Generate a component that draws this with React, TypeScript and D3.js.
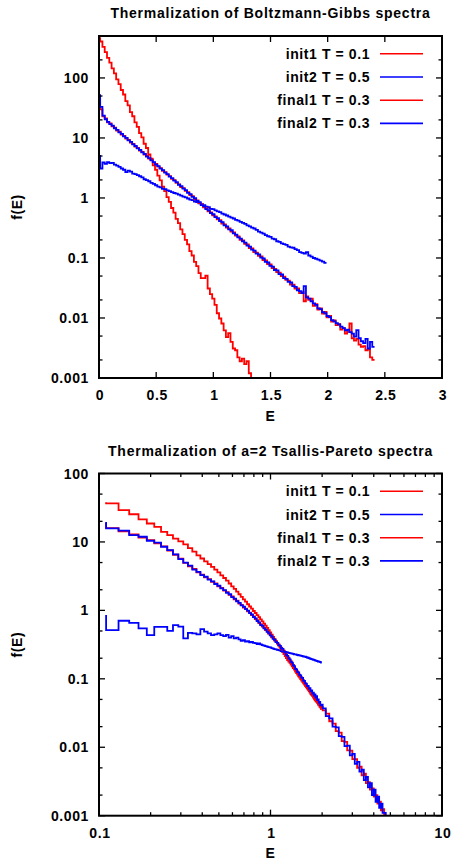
import React from "react";
import * as d3 from "d3";

const W = 451;
const H = 865;
const FONT = "'Liberation Sans', Arial, Helvetica, sans-serif";

// ---------- labels ----------
const LEGEND_LABELS = ["init1 T = 0.1", "init2 T = 0.5", "final1 T = 0.3", "final2 T = 0.3"];
const SERIES_COLORS = ["#ff0000", "#0000ff", "#ff0000", "#0000ff"];
const TOP_TITLE = "Thermalization of Boltzmann-Gibbs spectra";
const BOTTOM_TITLE = "Thermalization of a=2 Tsallis-Pareto spectra";
const Y_LABEL = "f(E)";
const X_LABEL = "E";
const Y_TICKS = [0.001, 0.01, 0.1, 1, 10, 100];
const Y_TICK_LABELS = ["0.001", "0.01", "0.1", "1", "10", "100"];
const TOP_X_TICKS = [0, 0.5, 1, 1.5, 2, 2.5, 3];
const TOP_X_TICK_LABELS = ["0", "0.5", "1", "1.5", "2", "2.5", "3"];
const BOTTOM_X_TICKS = [0.1, 1, 10];
const BOTTOM_X_TICK_LABELS = ["0.1", "1", "10"];

// ---------- histogram bins ----------
const BIN = 0.02; // bin width of all histograms
const TOP_E0 = 0; // first bin centre, top panel
const BOT_E0 = 0.1; // first bin centre, bottom panel (only its right edge is visible)
const BOT_TAIL_E0 = 2.05; // bottom panel tail read at coarser resolution
const BOT_TAIL_STEP = 0.1;

// ---------- top panel: Boltzmann-Gibbs (f at E = 0, 0.02, 0.04 ...) ----------
const TOP_INIT1 = [
  460, 405, 330, 270, 216, 180, 144, 119, 95, 79,
  63, 53, 41, 35, 27, 23, 18.2, 15.3, 12.0, 10.2,
  8.0, 6.8, 5.3, 4.5, 3.5, 2.95, 2.35, 1.96, 1.55, 1.3,
  1.03, 0.86, 0.68, 0.57, 0.45, 0.38, 0.30, 0.25, 0.20, 0.168,
  0.13, 0.11, 0.086, 0.073, 0.056, 0.046, 0.046, 0.051, 0.031, 0.025,
  0.021, 0.0165, 0.012, 0.0098, 0.0081, 0.0062, 0.0048, 0.0056, 0.0040, 0.0031,
  0.0029, 0.0022, 0.0019, 0.0021, 0.0017, 0.0019, 0.0012, 0.0010, 0.00095,
];
const TOP_INIT2 = [
  5.0, 3.1, 3.9, 3.7, 3.95, 3.8, 3.85, 3.6, 3.45, 3.3,
  3.1, 2.95, 2.7, 2.85, 2.75, 2.55, 2.5, 2.4, 2.3, 2.2,
  2.05, 1.98, 1.9, 1.78, 1.72, 1.63, 1.55, 1.5, 1.42, 1.4,
  1.34, 1.3, 1.25, 1.21, 1.18, 1.14, 1.09, 1.05, 1.02, 0.98,
  0.94, 0.92, 0.87, 0.85, 0.81, 0.79, 0.76, 0.72, 0.70, 0.66,
  0.65, 0.62, 0.60, 0.58, 0.55, 0.53, 0.51, 0.49, 0.47, 0.455,
  0.43, 0.42, 0.40, 0.385, 0.37, 0.35, 0.335, 0.32, 0.31, 0.295,
  0.275, 0.265, 0.255, 0.24, 0.23, 0.225, 0.21, 0.205, 0.19, 0.185,
  0.175, 0.17, 0.165, 0.155, 0.15, 0.148, 0.14, 0.135, 0.125, 0.122,
  0.118, 0.125, 0.11, 0.105, 0.10, 0.097, 0.094, 0.09, 0.087, 0.083,
];
const TOP_FINAL1 = [
  40, 30, 23, 21.2, 18.2, 17.4, 15.6, 14.8, 13.3, 12.7,
  11.4, 10.8, 9.8, 9.3, 8.4, 7.95, 7.2, 6.8, 6.15, 5.85,
  5.3, 5.0, 4.52, 4.3, 3.88, 3.68, 3.32, 3.15, 2.84, 2.7,
  2.44, 2.31, 2.08, 1.98, 1.78, 1.69, 1.52, 1.46, 1.31, 1.25,
  1.12, 1.07, 0.96, 0.915, 0.82, 0.78, 0.70, 0.67, 0.60, 0.575,
  0.515, 0.495, 0.44, 0.425, 0.375, 0.362, 0.322, 0.31, 0.275, 0.268,
  0.235, 0.228, 0.2, 0.196, 0.172, 0.168, 0.146, 0.144, 0.125, 0.123,
  0.108, 0.106, 0.092, 0.091, 0.079, 0.078, 0.068, 0.066, 0.058, 0.057,
  0.050, 0.049, 0.043, 0.042, 0.036, 0.036, 0.031, 0.031, 0.026, 0.027,
  0.019, 0.023, 0.020, 0.021, 0.016, 0.017, 0.0138, 0.0145, 0.0118, 0.0126,
  0.0102, 0.0108, 0.0087, 0.0091, 0.0076, 0.0079, 0.0064, 0.0068, 0.0055, 0.0059,
  0.0081, 0.0046, 0.0042, 0.0045, 0.0036, 0.0033, 0.0034, 0.0029, 0.0030, 0.0022,
  0.0020,
];
const TOP_FINAL2 = [
  51.5, 33, 23.5, 20.5, 18.6, 17.0, 16.0, 14.5, 13.6, 12.4,
  11.7, 10.6, 10.0, 9.1, 8.6, 7.8, 7.35, 6.7, 6.3, 5.75,
  5.4, 4.9, 4.62, 4.22, 3.97, 3.6, 3.4, 3.08, 2.9, 2.65,
  2.5, 2.26, 2.14, 1.94, 1.83, 1.66, 1.57, 1.43, 1.35, 1.22,
  1.16, 1.04, 0.99, 0.89, 0.85, 0.76, 0.73, 0.65, 0.62, 0.56,
  0.535, 0.48, 0.46, 0.41, 0.395, 0.35, 0.335, 0.30, 0.29, 0.258,
  0.245, 0.22, 0.21, 0.19, 0.18, 0.161, 0.155, 0.138, 0.133, 0.118,
  0.115, 0.101, 0.098, 0.086, 0.084, 0.074, 0.072, 0.063, 0.062, 0.054,
  0.053, 0.046, 0.045, 0.040, 0.039, 0.034, 0.033, 0.029, 0.028, 0.026,
  0.034, 0.022, 0.021, 0.019, 0.0175, 0.0165, 0.0145, 0.014, 0.0125, 0.012,
  0.0108, 0.0103, 0.0092, 0.0088, 0.0082, 0.0078, 0.0072, 0.0068, 0.0062, 0.0064,
  0.0058, 0.0055, 0.0049, 0.0063, 0.0046, 0.0041, 0.0038, 0.0045, 0.0031, 0.0040,
  0.0033,
];

// ---------- bottom panel: a=2 Tsallis-Pareto (f at E = 0.10, 0.12, ... 1.98) ----------
const BOT_INIT1 = [
  38, 36.5, 29.1, 25.4, 21.3, 18.6, 16.6, 14.0, 12.6, 11.2,
  10.2, 9.2, 8.1, 7.2, 6.35, 5.73, 5.21, 4.75, 4.33, 3.94,
  3.59, 3.25, 2.97, 2.72, 2.47, 2.25, 2.06, 1.88, 1.72, 1.58,
  1.45, 1.34, 1.23, 1.14, 1.06, 0.98, 0.916, 0.853, 0.794, 0.74,
  0.689, 0.641, 0.597, 0.554, 0.514, 0.477, 0.443, 0.411, 0.382, 0.354,
  0.329, 0.305, 0.283, 0.263, 0.245, 0.229, 0.214, 0.2, 0.188, 0.178,
  0.171, 0.161, 0.152, 0.144, 0.136, 0.128, 0.121, 0.115, 0.109, 0.104,
  0.099, 0.094, 0.09, 0.086, 0.082, 0.078, 0.075, 0.072, 0.069, 0.066,
  0.063, 0.060, 0.058, 0.056, 0.053, 0.051, 0.049, 0.047, 0.046, 0.044,
  0.042, 0.041, 0.039, 0.038, 0.036,
];
const BOT_INIT2 = [
  0.853, 0.515, 0.705, 0.658, 0.546, 0.435, 0.575, 0.575, 0.503, 0.609,
  0.58, 0.389, 0.47, 0.46, 0.447, 0.534, 0.49, 0.46, 0.435, 0.447,
  0.46, 0.435, 0.42, 0.44, 0.40, 0.42, 0.389, 0.40, 0.378, 0.36,
  0.368, 0.35, 0.355, 0.342, 0.347, 0.335, 0.333, 0.322, 0.33, 0.318,
  0.31, 0.306, 0.30, 0.296, 0.29, 0.288, 0.28, 0.277, 0.272, 0.27,
  0.264, 0.262, 0.258, 0.255, 0.252, 0.25, 0.247, 0.246, 0.243, 0.24,
  0.238, 0.236, 0.233, 0.232, 0.228, 0.227, 0.225, 0.223, 0.221, 0.22,
  0.218, 0.216, 0.214, 0.212, 0.211, 0.21, 0.207, 0.205, 0.203, 0.2,
  0.198, 0.196, 0.194, 0.192, 0.19, 0.189, 0.186, 0.185, 0.183, 0.181,
  0.179, 0.178, 0.177, 0.175, 0.172,
];
const BOT_FINAL1 = [
  19, 15.9, 14.3, 12.9, 11.6, 10.6, 9.5, 8.6, 7.5, 6.5,
  5.7, 4.95, 4.4, 4.05, 3.6, 3.33, 3.04, 2.86, 2.62, 2.47,
  2.25, 2.13, 1.94, 1.85, 1.68, 1.6, 1.45, 1.39, 1.26, 1.2,
  1.1, 1.06, 0.97, 0.93, 0.85, 0.82, 0.745, 0.72, 0.65, 0.63,
  0.58, 0.555, 0.515, 0.495, 0.455, 0.44, 0.405, 0.39, 0.362, 0.352,
  0.327, 0.318, 0.295, 0.286, 0.265, 0.257, 0.237, 0.229, 0.21, 0.203,
  0.187, 0.181, 0.166, 0.16, 0.148, 0.141, 0.131, 0.128, 0.118, 0.115,
  0.107, 0.105, 0.097, 0.095, 0.088, 0.086, 0.081, 0.079, 0.074, 0.072,
  0.068, 0.066, 0.062, 0.06, 0.057, 0.055, 0.052, 0.051, 0.048, 0.047,
  0.045, 0.044, 0.042, 0.041, 0.039,
];
const BOT_FINAL1_TAIL = [
  0.0345, 0.031, 0.024, 0.0222, 0.0172, 0.0164, 0.0123, 0.012, 0.009, 0.0089,
  0.0067, 0.0067, 0.005, 0.0052, 0.0039, 0.0041, 0.003, 0.0031, 0.0024, 0.0025,
  0.0019, 0.002, 0.0015, 0.0016, 0.0012, 0.00125, 0.00098, 0.0009,
];
const BOT_FINAL2 = [
  19.5, 15.8, 14.6, 12.6, 11.9, 10.4, 9.8, 8.5, 7.6, 6.6,
  5.6, 5.0, 4.5, 3.95, 3.65, 3.28, 3.1, 2.82, 2.66, 2.43,
  2.29, 2.09, 1.98, 1.81, 1.72, 1.56, 1.49, 1.36, 1.29, 1.18,
  1.13, 1.04, 0.99, 0.91, 0.87, 0.80, 0.765, 0.70, 0.67, 0.61,
  0.60, 0.545, 0.525, 0.485, 0.465, 0.43, 0.415, 0.383, 0.37, 0.345,
  0.335, 0.31, 0.302, 0.28, 0.273, 0.252, 0.244, 0.224, 0.217, 0.199,
  0.193, 0.177, 0.172, 0.157, 0.153, 0.14, 0.137, 0.125, 0.124, 0.114,
  0.112, 0.104, 0.103, 0.094, 0.093, 0.086, 0.085, 0.078, 0.079, 0.072,
  0.073, 0.066, 0.068, 0.061, 0.063, 0.057, 0.059, 0.053, 0.056, 0.049,
  0.050, 0.045, 0.046, 0.041, 0.042,
];
const BOT_FINAL2_TAIL = [
  0.037, 0.0285, 0.0265, 0.0200, 0.0195, 0.0145, 0.0142, 0.0104, 0.0106, 0.0076,
  0.0080, 0.0057, 0.0061, 0.0044, 0.0047, 0.0033, 0.0037, 0.0026, 0.0030, 0.0020,
  0.0024, 0.0016, 0.0019, 0.0013, 0.0015, 0.0011, 0.0011, 0.00088,
];

// ---------- helpers ----------
function binCentres(start: number, step: number, n: number): number[] {
  return Array.from({ length: n }, (_, i) => Math.round((start + step * i) * 1e6) / 1e6);
}

function histeps(E: number[], f: number[], x: (v: number) => number, y: (v: number) => number, eStart: number) {
  const n = E.length;
  const edges: number[] = new Array(n + 1);
  edges[0] = E[0] - (E[1] - E[0]) / 2;
  for (let i = 1; i < n; i++) edges[i] = (E[i - 1] + E[i]) / 2;
  edges[n] = E[n - 1] + (E[n - 1] - E[n - 2]) / 2;
  let d = "";
  let started = false;
  for (let i = 0; i < n; i++) {
    const r = edges[i + 1];
    if (r < eStart - 1e-9) continue;
    const l = Math.max(edges[i], eStart);
    const yy = y(f[i]).toFixed(2);
    if (!started) {
      d += `M${x(l).toFixed(2)},${yy}`;
      started = true;
    } else d += `V${yy}`;
    d += `H${x(r).toFixed(2)}`;
  }
  return d;
}

type Series = { E: number[]; f: number[]; color: string };

type PanelProps = {
  id: string;
  left: number;
  right: number;
  top: number;
  bottom: number;
  xLog: boolean;
  xDomain: [number, number];
  yDomain: [number, number];
  xTicks: number[];
  xTickLabels: string[];
  xMinor: number[];
  title: string;
  titleY: number;
  series: Series[];
  eStart: number;
};

const textStyle: React.CSSProperties = {
  fontFamily: FONT,
  fontWeight: 700,
  fontSize: 14,
  letterSpacing: "0.6px",
};

function Panel(p: PanelProps) {
  const x: any = p.xLog
    ? d3.scaleLog().domain(p.xDomain).range([p.left, p.right])
    : d3.scaleLinear().domain(p.xDomain).range([p.left, p.right]);
  const y = d3.scaleLog().domain(p.yDomain).range([p.bottom, p.top]);
  const majorLen = 6;
  const minorLen = 3.5;
  const yMinor: number[] = [];
  Y_TICKS.forEach((d) => {
    [2, 5].forEach((m) => {
      const v = d * m;
      if (v > p.yDomain[0] && v < p.yDomain[1]) yMinor.push(v);
    });
  });
  const yMajor = Y_TICKS.filter((v) => v >= p.yDomain[0] && v <= p.yDomain[1]);
  const cx = (p.left + p.right) / 2;
  const cy = (p.top + p.bottom) / 2;
  const legendX = 369.5;
  return (
    <g>
      <defs>
        <clipPath id={p.id}>
          <rect x={p.left} y={p.top} width={p.right - p.left} height={p.bottom - p.top} />
        </clipPath>
      </defs>
      <text x={cx} y={p.titleY} textAnchor="middle" style={{ ...textStyle, letterSpacing: "0.75px" }}>
        {p.title}
      </text>
      {/* data */}
      <g clipPath={`url(#${p.id})`} fill="none" strokeWidth={1.8} strokeLinejoin="miter">
        {p.series.map((s, i) => (
          <path key={i} d={histeps(s.E, s.f, x, y, p.eStart)} stroke={s.color} />
        ))}
      </g>
      {/* ticks */}
      <g stroke="#000" strokeWidth={1.3}>
        {yMajor.map((v, i) => (
          <g key={"ym" + i}>
            <line x1={p.left} x2={p.left + majorLen} y1={y(v)} y2={y(v)} />
            <line x1={p.right} x2={p.right - majorLen} y1={y(v)} y2={y(v)} />
          </g>
        ))}
        {yMinor.map((v, i) => (
          <g key={"yn" + i}>
            <line x1={p.left} x2={p.left + minorLen} y1={y(v)} y2={y(v)} />
            <line x1={p.right} x2={p.right - minorLen} y1={y(v)} y2={y(v)} />
          </g>
        ))}
        {p.xTicks.map((v, i) => (
          <g key={"xm" + i}>
            <line x1={x(v)} x2={x(v)} y1={p.bottom} y2={p.bottom - majorLen} />
            <line x1={x(v)} x2={x(v)} y1={p.top} y2={p.top + majorLen} />
          </g>
        ))}
        {p.xMinor.map((v, i) => (
          <g key={"xn" + i}>
            <line x1={x(v)} x2={x(v)} y1={p.bottom} y2={p.bottom - minorLen} />
            <line x1={x(v)} x2={x(v)} y1={p.top} y2={p.top + minorLen} />
          </g>
        ))}
      </g>
      {/* frame */}
      <rect
        x={p.left}
        y={p.top}
        width={p.right - p.left}
        height={p.bottom - p.top}
        fill="none"
        stroke="#000"
        strokeWidth={2}
      />
      {/* tick labels */}
      {yMajor.map((v, i) => (
        <text key={"yl" + i} x={89} y={y(v) + 5} textAnchor="end" style={textStyle}>
          {Y_TICK_LABELS[Y_TICKS.indexOf(v)]}
        </text>
      ))}
      {p.xTicks.map((v, i) => (
        <text key={"xl" + i} x={x(v) + 1} y={p.bottom + 22} textAnchor="middle" style={textStyle}>
          {p.xTickLabels[i]}
        </text>
      ))}
      <text x={cx} y={p.bottom + 42.5} textAnchor="middle" style={textStyle}>
        {X_LABEL}
      </text>
      <text
        transform={`translate(22,${cy}) rotate(-90)`}
        textAnchor="middle"
        style={textStyle}
      >
        {Y_LABEL}
      </text>
      {/* legend */}
      {LEGEND_LABELS.map((lab, i) => {
        const ly = p.top + 17.8 + i * 23.2;
        return (
          <g key={"lg" + i}>
            <text x={legendX + 0.6} y={ly + 5} textAnchor="end" style={textStyle}>
              {lab}
            </text>
            <line x1={380} x2={423} y1={ly} y2={ly} stroke={SERIES_COLORS[i]} strokeWidth={1.6} />
          </g>
        );
      })}
    </g>
  );
}

export default function App() {
  const topSeries: Series[] = [TOP_INIT1, TOP_INIT2, TOP_FINAL1, TOP_FINAL2].map((f, i) => ({
    E: binCentres(TOP_E0, BIN, f.length),
    f,
    color: SERIES_COLORS[i],
  }));
  const tailE = binCentres(BOT_TAIL_E0, BOT_TAIL_STEP, BOT_FINAL1_TAIL.length);
  const botData = [
    { f: BOT_INIT1, tail: [] as number[] },
    { f: BOT_INIT2, tail: [] as number[] },
    { f: BOT_FINAL1, tail: BOT_FINAL1_TAIL },
    { f: BOT_FINAL2, tail: BOT_FINAL2_TAIL },
  ];
  const botSeries: Series[] = botData.map((s, i) => ({
    E: binCentres(BOT_E0, BIN, s.f.length).concat(s.tail.length ? tailE : []),
    f: s.f.concat(s.tail),
    color: SERIES_COLORS[i],
  }));
  const logMinor: number[] = [];
  [0.1, 1].forEach((d) => {
    for (let k = 2; k <= 9; k++) logMinor.push(d * k);
  });
  return (
    <svg
      width={W}
      height={H}
      viewBox={`0 0 ${W} ${H}`}
      style={{ position: "absolute", left: 0, top: 0, background: "#fff" }}
    >
      <rect x={0} y={0} width={W} height={H} fill="#fff" />
      <Panel
        id="clipTop"
        left={99}
        right={442}
        top={36}
        bottom={378}
        xLog={false}
        xDomain={[0, 3]}
        yDomain={[0.001, 500]}
        xTicks={TOP_X_TICKS}
        xTickLabels={TOP_X_TICK_LABELS}
        xMinor={[]}
        title={TOP_TITLE}
        titleY={17.5}
        series={topSeries}
        eStart={0}
      />
      <Panel
        id="clipBottom"
        left={99}
        right={442}
        top={473.5}
        bottom={815.7}
        xLog={true}
        xDomain={[0.1, 10]}
        yDomain={[0.001, 100]}
        xTicks={BOTTOM_X_TICKS}
        xTickLabels={BOTTOM_X_TICK_LABELS}
        xMinor={logMinor}
        title={BOTTOM_TITLE}
        titleY={455.5}
        series={botSeries}
        eStart={0.11}
      />
    </svg>
  );
}
